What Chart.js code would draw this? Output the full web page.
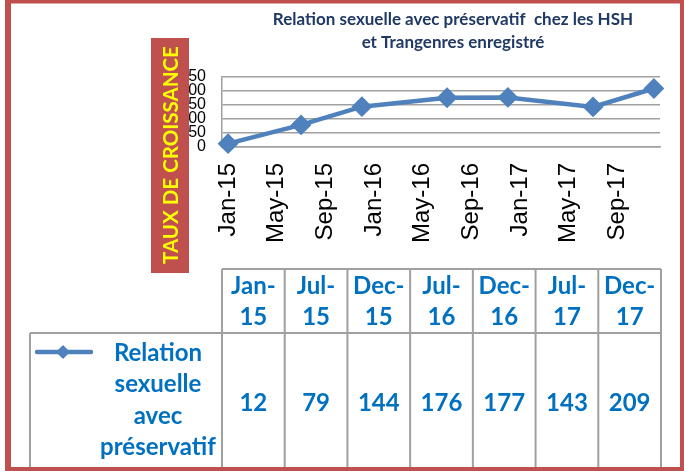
<!DOCTYPE html>
<html>
<head>
<meta charset="utf-8">
<script src="https://cdn.jsdelivr.net/npm/chart.js@4/dist/chart.umd.min.js"></script>
<style>
  html, body { margin: 0; padding: 0; background: #fff; }
</style>
</head>
<body>
<canvas id="chart" width="684" height="471"></canvas>
<script>
// points sit on a month axis, counted from Jan-15 (= 0)
var pointLabels = ['Jan-15', 'Jul-15', 'Dec-15', 'Jul-16', 'Dec-16', 'Jul-17', 'Dec-17'];
var pointMonths = [0, 6, 11, 18, 23, 30, 35];
var seriesValues = [12, 79, 144, 176, 177, 143, 209];
var seriesName = 'Relation sexuelle avec préservatif';

// axis labels every 4 months
var xTickMonths = [0, 4, 8, 12, 16, 20, 24, 28, 32];
var xTickLabels = ['Jan-15', 'May-15', 'Sep-15', 'Jan-16', 'May-16', 'Sep-16', 'Jan-17', 'May-17', 'Sep-17'];
var yTicks = [0, 50, 100, 150, 200, 250];

var titleLines = ['Relation sexuelle avec préservatif  chez les HSH', 'et Trangenres enregistré'];
var yAxisTitle = 'TAUX DE CROISSANCE';

var lineColor = '#4f81bd';
var gridColor = '#a0a0a0';
var tableBlue = '#0070c0';
var frameRed = '#c0504d';

// table under the chart, the red side box, the title and the frame
var sheetPlugin = {
  id: 'sheet',
  afterDraw: function (chart) {
    var ctx = chart.ctx;
    ctx.save();

    // title
    ctx.fillStyle = '#1f3864';
    ctx.font = 'bold 17px Lato';
    ctx.textAlign = 'center';
    ctx.textBaseline = 'middle';
    ctx.fillText(titleLines[0], 453, 20);
    ctx.fillText(titleLines[1], 453, 43);

    // red box over the y axis labels
    ctx.fillStyle = frameRed;
    ctx.fillRect(151, 38, 38, 235);
    ctx.save();
    ctx.translate(171, 155);
    ctx.rotate(-Math.PI / 2);
    ctx.fillStyle = '#ffff00';
    ctx.font = 'bold 20.5px Lato';
    ctx.fillText(yAxisTitle, 0, 0);
    ctx.restore();

    // data table
    var tLeft = 222, tRight = 661, legLeft = 30;
    var top = 269, mid = 333, bottom = 467;
    var colW = (tRight - tLeft) / pointLabels.length;
    ctx.strokeStyle = gridColor;
    ctx.lineWidth = 2;
    ctx.beginPath();
    ctx.moveTo(tLeft, top); ctx.lineTo(tRight, top);
    ctx.moveTo(legLeft, mid); ctx.lineTo(tRight, mid);
    ctx.moveTo(legLeft, mid); ctx.lineTo(legLeft, bottom);
    for (var i = 0; i <= pointLabels.length; i++) {
      var x = tLeft + i * colW;
      ctx.moveTo(x, top); ctx.lineTo(x, bottom);
    }
    ctx.stroke();

    ctx.fillStyle = tableBlue;
    ctx.font = 'bold 24px Lato';
    pointLabels.forEach(function (lab, i) {
      var parts = lab.split('-');
      var cx = tLeft + (i + 0.5) * colW;
      ctx.fillText(parts[0] + '-', cx, 286);
      ctx.fillText(parts[1], cx, 317);
      ctx.fillText(String(seriesValues[i]), cx, 403);
    });

    // legend key
    ctx.strokeStyle = lineColor;
    ctx.lineWidth = 4.5;
    ctx.lineCap = 'round';
    ctx.beginPath();
    ctx.moveTo(37, 352); ctx.lineTo(91, 352);
    ctx.stroke();
    ctx.fillStyle = lineColor;
    ctx.beginPath();
    ctx.moveTo(63, 345); ctx.lineTo(70, 352); ctx.lineTo(63, 359); ctx.lineTo(56, 352);
    ctx.closePath();
    ctx.fill();

    ctx.fillStyle = tableBlue;
    seriesName.split(' ').forEach(function (w, i) {
      ctx.fillText(w, 158, 353 + i * 31.5);
    });

    // outer frame
    ctx.fillStyle = frameRed;
    ctx.fillRect(5, 0, 679, 3.5);
    ctx.fillRect(5, 0, 6, 471);
    ctx.fillRect(680, 0, 4, 471);
    ctx.fillRect(5, 467, 679, 4);
    ctx.restore();
  }
};

var points = pointMonths.map(function (m, i) {
  return { x: m, y: seriesValues[i] };
});

new Chart(document.getElementById('chart'), {
  type: 'line',
  data: {
    datasets: [{
      label: seriesName,
      data: points,
      borderColor: lineColor,
      backgroundColor: lineColor,
      borderWidth: 4.5,
      pointStyle: 'rectRot',
      pointRadius: 9,
      pointBorderWidth: 2,
      pointBorderColor: lineColor,
      pointBackgroundColor: lineColor,
      tension: 0,
      clip: false
    }]
  },
  options: {
    responsive: false,
    animation: false,
    layout: { padding: { top: 77, right: 24, bottom: 214, left: 0 } },
    plugins: {
      legend: { display: false },
      title: { display: false },
      tooltip: { enabled: false }
    },
    scales: {
      x: {
        type: 'linear',
        min: -0.5,
        max: 35.5,
        afterBuildTicks: function (scale) {
          scale.ticks = xTickMonths.map(function (v) { return { value: v }; });
        },
        afterFit: function (scale) { scale.height = 110; },
        grid: { display: false, drawTicks: false },
        border: { display: true, color: gridColor, width: 1.5 },
        ticks: {
          autoSkip: false,
          maxRotation: 90,
          minRotation: 90,
          padding: 16,
          color: '#000',
          font: { family: 'Liberation Sans', size: 24 },
          callback: function (v, i) { return xTickLabels[i]; }
        }
      },
      y: {
        min: yTicks[0],
        max: yTicks[yTicks.length - 1],
        afterBuildTicks: function (scale) {
          scale.ticks = yTicks.map(function (v) { return { value: v }; });
        },
        afterFit: function (scale) { scale.width = 222; },
        grid: { color: gridColor, lineWidth: 1.5, drawTicks: false },
        border: { display: true, color: gridColor, width: 1.5 },
        ticks: {
          autoSkip: false,
          padding: 16,
          color: '#000',
          font: { family: 'Liberation Sans', size: 16 }
        }
      }
    }
  },
  plugins: [sheetPlugin]
});
</script>
</body>
</html>
